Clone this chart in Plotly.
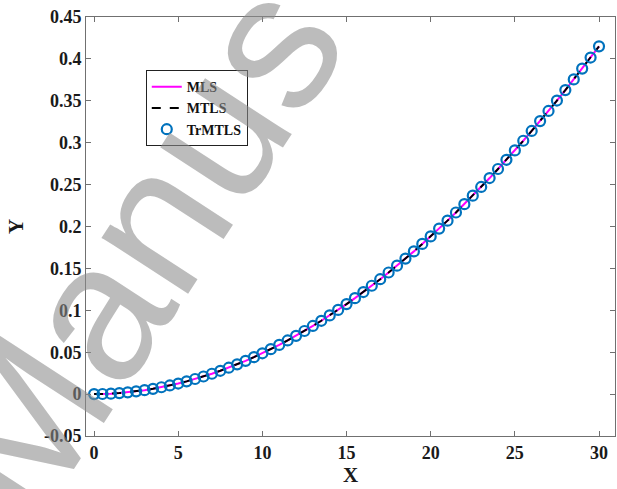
import plotly.graph_objects as go

x_vals = [0, 0.5, 1, 1.5, 2, 2.5, 3, 3.5, 4, 4.5, 5, 5.5, 6, 6.5, 7, 7.5, 8, 8.5, 9, 9.5,
          10, 10.5, 11, 11.5, 12, 12.5, 13, 13.5, 14, 14.5, 15, 15.5, 16, 16.5, 17, 17.5,
          18, 18.5, 19, 19.5, 20, 20.5, 21, 21.5, 22, 22.5, 23, 23.5, 24, 24.5, 25, 25.5,
          26, 26.5, 27, 27.5, 28, 28.5, 29, 29.5, 30]

y_vals = [0.0, 0.0001, 0.0005, 0.0012, 0.0021, 0.0033, 0.0047, 0.0063, 0.0082, 0.0103,
          0.0126, 0.0152, 0.0180, 0.0210, 0.0243, 0.0278, 0.0315, 0.0355, 0.0397, 0.0441,
          0.0487, 0.0536, 0.0587, 0.0640, 0.0695, 0.0753, 0.0813, 0.0875, 0.0939, 0.1005,
          0.1074, 0.1145, 0.1218, 0.1293, 0.1371, 0.1451, 0.1533, 0.1617, 0.1703, 0.1792,
          0.1882, 0.1975, 0.2070, 0.2167, 0.2267, 0.2368, 0.2472, 0.2578, 0.2686, 0.2796,
          0.2908, 0.3023, 0.3140, 0.3258, 0.3379, 0.3503, 0.3628, 0.3755, 0.3884, 0.4016,
          0.4150]

x_ticks = [0, 5, 10, 15, 20, 25, 30]
y_ticks = [-0.05, 0, 0.05, 0.1, 0.15, 0.2, 0.25, 0.3, 0.35, 0.4, 0.45]
y_tick_text = ["-0.05", "0", "0.05", "0.1", "0.15", "0.2", "0.25", "0.3", "0.35", "0.4", "0.45"]

FONT = "Liberation Serif"
TXT = "#1a1a1a"

fig = go.Figure()
fig.add_trace(go.Scatter(x=x_vals, y=y_vals, mode="lines", name="MLS",
                         line=dict(color="#FF00FF", width=2)))
fig.add_trace(go.Scatter(x=x_vals, y=y_vals, mode="lines", name="MTLS",
                         line=dict(color="black", width=2, dash="dash")))
fig.add_trace(go.Scatter(x=x_vals, y=y_vals, mode="markers", name="TrMTLS",
                         marker=dict(symbol="circle-open", size=10, color="#0072BD",
                                     line=dict(width=2.2, color="#0072BD"))))

axis_common = dict(showgrid=False, zeroline=False, showline=True, linecolor="#707070",
                   linewidth=1, mirror="allticks", ticks="inside", ticklen=5,
                   tickcolor="#707070", automargin=False,
                   tickfont=dict(family=FONT, size=18, color=TXT, weight="bold"))

fig.update_xaxes(range=[-0.48, 30.95], tickvals=x_ticks,
                 title=dict(text="X", font=dict(family=FONT, size=21, color=TXT, weight="bold"),
                            standoff=4),
                 **axis_common)
fig.update_yaxes(range=[-0.05, 0.45], tickvals=y_ticks, ticktext=y_tick_text,
                 title=dict(text="Y", font=dict(family=FONT, size=21, color=TXT, weight="bold"),
                            standoff=14),
                 **axis_common)

fig.add_annotation(text="Manus", xref="paper", yref="paper", x=0.093, y=0.444,
                   xanchor="center", yanchor="middle",
                   showarrow=False, textangle=-57,
                   font=dict(family="Liberation Sans", size=195, color="rgba(140,140,140,0.58)"))

fig.update_layout(
    width=617, height=489,
    margin=dict(l=86, r=2, t=17, b=53),
    paper_bgcolor="white", plot_bgcolor="white",
    showlegend=True,
    legend=dict(x=0.113, y=0.873, xanchor="left", yanchor="top",
                bgcolor="white", bordercolor="#222222", borderwidth=1,
                font=dict(family=FONT, size=14, color="#111111", weight="bold"),
                tracegroupgap=0, itemwidth=30),
)

fig.write_html("out.html", config={"displayModeBar": False},
               post_script="document.body.style.margin='0';")
